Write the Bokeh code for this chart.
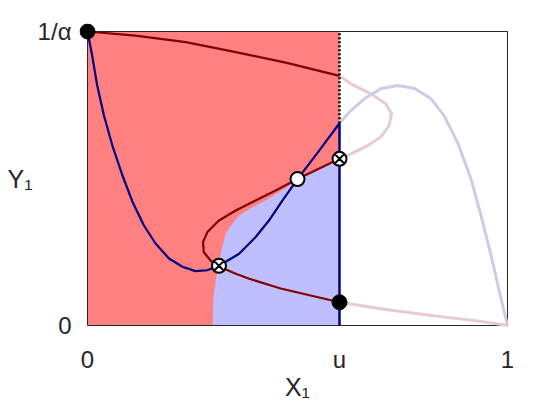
from bokeh.plotting import figure
from bokeh.models import Range1d, FixedTicker
from bokeh.embed import file_html
from bokeh.resources import INLINE

# ---- data ----
u = 0.6
x_min, x_max = 0.0, 1.0
y_min, y_max = 0.0, 1.0
x_ticks = [0, u, 1]
x_tick_labels = ["0", "u", "1"]
y_ticks = [0, 1]
y_tick_labels = ["0", "1/α"]

# red nullcline (S-shaped), split where it crosses x = u
red_top_x = [0.0, 0.114, 0.234, 0.353, 0.472, 0.6]
red_top_y = [1.0, 0.986, 0.964, 0.930, 0.894, 0.849]
red_nose_x = [0.6, 0.627, 0.675, 0.710, 0.724, 0.718, 0.698, 0.667, 0.627, 0.6]
red_nose_y = [0.849, 0.822, 0.788, 0.754, 0.720, 0.680, 0.640, 0.612, 0.584, 0.567]
red_mid_x = [0.6, 0.5, 0.448, 0.400, 0.353, 0.313, 0.285, 0.275, 0.277, 0.293, 0.313, 0.353, 0.385, 0.460, 0.6]
red_mid_y = [0.567, 0.498, 0.459, 0.425, 0.391, 0.357, 0.317, 0.283, 0.249, 0.221, 0.201, 0.176, 0.159, 0.126, 0.079]
red_tail_x = [0.6, 0.698, 0.818, 0.937, 1.0]
red_tail_y = [0.079, 0.057, 0.034, 0.014, 0.0]

# blue nullcline, split at x = u
blue_dark_x = [0.0, 0.011, 0.023, 0.039, 0.059, 0.083, 0.107, 0.134, 0.162, 0.194, 0.226, 0.257, 0.285,
               0.313, 0.361, 0.400, 0.432, 0.464, 0.5, 0.548, 0.6]
blue_dark_y = [1.0, 0.919, 0.817, 0.715, 0.613, 0.511, 0.421, 0.341, 0.279, 0.228, 0.200, 0.185, 0.188,
               0.203, 0.244, 0.300, 0.357, 0.425, 0.498, 0.588, 0.688]
blue_light_x = [0.6, 0.627, 0.659, 0.698, 0.738, 0.778, 0.818, 0.849, 0.881, 0.913, 0.937, 0.961, 0.981, 1.0]
blue_light_y = [0.688, 0.731, 0.771, 0.805, 0.816, 0.807, 0.771, 0.714, 0.623, 0.499, 0.374, 0.238, 0.113, 0.0]

# separatrix bounding the blue basin (from the bottom up to the middle fixed point)
sep_x = [0.298, 0.300, 0.306, 0.313, 0.317, 0.329, 0.345, 0.361, 0.393, 0.424, 0.456, 0.488]
sep_y = [0.0, 0.095, 0.160, 0.203, 0.244, 0.312, 0.346, 0.374, 0.402, 0.425, 0.453, 0.482]

# fixed points
stable_x = [0.0, 0.6]
stable_y = [1.0, 0.079]
unstable_x = [0.5]
unstable_y = [0.498]
saddle_x = [0.313, 0.6]
saddle_y = [0.203, 0.567]
blue_at_u = 0.688

# ---- styles ----
DARK_RED = "#800000"
NAVY = "#000080"
LIGHT_RED = "#e6cccc"
LIGHT_BLUE = "#ccccE6"
FILL_RED = "#ff8080"
FILL_BLUE = "#bfbfff"
AX = "#262626"
FONT = "Liberation Sans"

# box is 419.5 x 294 px; the frame is padded by 8 px so markers on the border are not clipped
PAD = 8
BOX_W, BOX_H = 419.5, 294
xpad = PAD / BOX_W
ypad = PAD / BOX_H

p = figure(frame_width=436, frame_height=310,
           x_range=Range1d(x_min - xpad, x_max + xpad), y_range=Range1d(y_min - ypad, y_max + ypad),
           output_backend="svg", toolbar_location=None,
           min_border_left=79, min_border_right=29, min_border_top=23, min_border_bottom=71)
p.grid.visible = False
p.outline_line_color = None
p.background_fill_color = "white"
p.border_fill_color = "white"

# fills
p.quad(left=[x_min], right=[u], bottom=[y_min], top=[y_max], fill_color=FILL_RED, line_color=None)
basin_x = sep_x + [unstable_x[0], u, u]
basin_y = sep_y + [unstable_y[0], saddle_y[1], y_min]
p.patch(basin_x, basin_y, fill_color=FILL_BLUE, line_color=None)

# box
p.quad(left=[x_min], right=[x_max], bottom=[y_min], top=[y_max], fill_color=None, line_color=AX, line_width=1)

# light (outside) curves
p.line(red_nose_x, red_nose_y, line_color=LIGHT_RED, line_width=3)
p.line(red_tail_x, red_tail_y, line_color=LIGHT_RED, line_width=3)
p.line(blue_light_x, blue_light_y, line_color=LIGHT_BLUE, line_width=3)

# dark curves
p.line(red_top_x, red_top_y, line_color=DARK_RED, line_width=2.2)
p.line(red_mid_x, red_mid_y, line_color=DARK_RED, line_width=2.2)
p.line(blue_dark_x, blue_dark_y, line_color=NAVY, line_width=2.2)

# vertical line at u
p.line([u, u], [y_min, blue_at_u], line_color=NAVY, line_width=2.5)
p.line([u, u], [blue_at_u, y_max], line_color="black", line_width=2.5, line_dash="2 2")

# fixed points
p.scatter(stable_x, stable_y, marker="circle", size=15, fill_color="black", line_color="black")
p.scatter(unstable_x, unstable_y, marker="circle", size=14, fill_color="white", line_color="black", line_width=2)
p.scatter(saddle_x, saddle_y, marker="circle_x", size=14, fill_color="white", line_color="black", line_width=2)

# axes
for ax in (p.xaxis[0], p.yaxis[0]):
    ax.axis_line_color = None
    ax.major_tick_line_color = None
    ax.minor_tick_line_color = None
    ax.major_label_text_font = FONT
    ax.major_label_text_font_size = "24px"
    ax.major_label_text_color = AX
    ax.axis_label_text_font = FONT
    ax.axis_label_text_font_size = "25px"
    ax.axis_label_text_font_style = "normal"
    ax.axis_label_text_color = AX
p.xaxis.ticker = FixedTicker(ticks=x_ticks)
p.xaxis.major_label_overrides = {t: s for t, s in zip(x_ticks, x_tick_labels)}
p.xaxis.major_label_standoff = 6
p.xaxis.axis_label = "X₁"
p.xaxis.axis_label_standoff = -3
p.yaxis.ticker = FixedTicker(ticks=y_ticks)
p.yaxis.major_label_overrides = {t: s for t, s in zip(y_ticks, y_tick_labels)}
p.yaxis.major_label_standoff = 2
p.yaxis.major_label_text_align = "right"
p.yaxis.axis_label = "Y₁"
p.yaxis.axis_label_orientation = "horizontal"
p.yaxis.axis_label_standoff = 2

open("out.html", "w").write(file_html(p, INLINE))
